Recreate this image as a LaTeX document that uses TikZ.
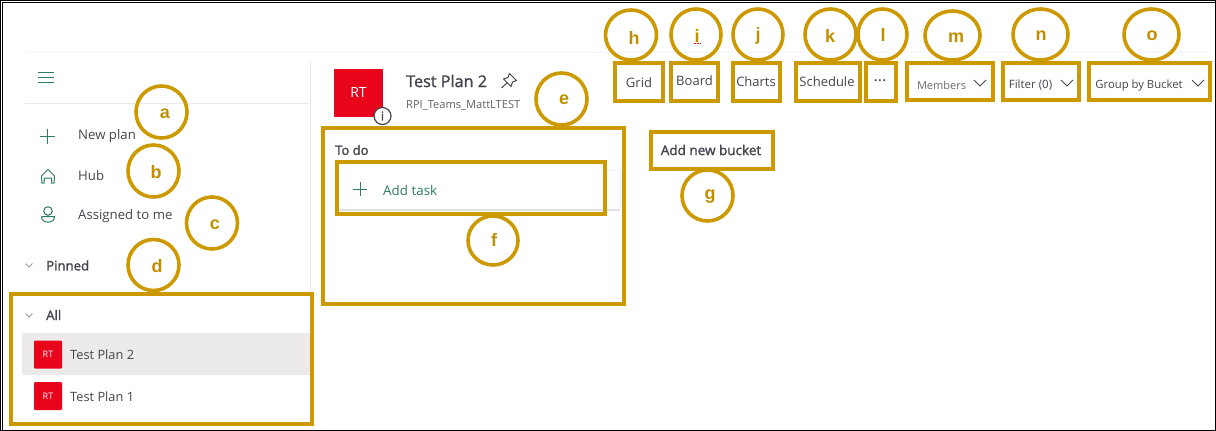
\documentclass[tikz,border=0pt]{standalone}
\usepackage{fontspec}
\usetikzlibrary{shapes.geometric}
\setmainfont{Open Sans}
\newfontfamily\semifont[FakeBold=1.6]{Open Sans}
\newfontfamily\letterfont{Liberation Sans}
\definecolor{hl}{HTML}{CC9900}
\definecolor{hltext}{HTML}{BF8F00}
\definecolor{ink}{HTML}{44464F}
\definecolor{plangreen}{HTML}{2F7D5F}
\definecolor{planred}{HTML}{E8051C}
\definecolor{rowgrey}{HTML}{EDEBE9}
\definecolor{rule}{HTML}{EDEBE9}
\tikzset{
  x=1pt,y=-1pt,
  hlbox/.style={draw=hl,line width=4pt,rectangle,inner sep=0pt,minimum width=#1},
  callout/.style={draw=hl,line width=3.6pt,ellipse,inner sep=0pt},
  letter/.style={font=\letterfont\bfseries\fontsize{18}{18}\selectfont,text=hltext,inner sep=0pt},
  uitext/.style={font=\fontsize{13.2}{15}\selectfont,text=ink,inner sep=0pt,anchor=west},
  uimid/.style={font=\fontsize{13}{15}\selectfont,text=ink,inner sep=0pt},
  semi/.style={font=\semifont\fontsize{13.2}{15}\selectfont,text=ink,inner sep=0pt,anchor=west},
  icon/.style={draw=plangreen,line width=1pt},
  chev/.style={draw=ink,line width=.8pt},
  smallchev/.style={draw=gray!80,line width=.9pt},
  badge/.style={fill=planred,inner sep=0pt,minimum width=28pt,minimum height=28pt,rounded corners=1pt,text=white,font=\fontsize{9}{10}\selectfont},
}
\begin{document}
\begin{tikzpicture}
\useasboundingbox (0,0) rectangle (1216,431);
\fill[white] (0,0) rectangle (1216,431);
% faint panel rules
\draw[draw=blue!4,line width=1pt] (25,52) -- (1210,52);
\draw[draw=rule,line width=1pt] (25,103) -- (310,103);
\draw[draw=rule,line width=1pt] (310.5,60) -- (310.5,292);
% selected row
\fill[rowgrey] (22,333) rectangle (310,375);
% sidebar icons
\draw[icon] (38,72.5) -- (54,72.5) (38,77.5) -- (54,77.5) (38,82.5) -- (54,82.5);
\draw[icon] (40,136) -- (55,136) (47.5,128.5) -- (47.5,143.5);
\draw[icon,line join=round] (44,183) -- (42,183) -- (41.5,176) -- (48,169.5) -- (54.5,176) -- (54,183) -- (51.5,183) -- (51.5,178) -- (44.5,178) -- cycle;
\draw[icon] (48,211) circle[radius=4.3];
\draw[icon] (41.5,216.5) -- (54.5,216.5) .. controls (55,224) and (41,224) .. (41.5,216.5);
\draw[smallchev] (25.5,263.5) -- (29,267) -- (32.5,263.5);
\draw[smallchev] (25.5,313.5) -- (29,317) -- (32.5,313.5);
% sidebar text
\node[uitext] (newplan) at (78,136.5) {New plan};
\node[uitext] (hub) at (78,176) {Hub};
\node[uitext] (assigned) at (78,216) {Assigned to me};
\node[semi] (pinned) at (46,265.5) {Pinned};
\node[semi] (all) at (46,315) {All};
\node[badge] (rt2) at (48,354.5) {RT};
\node[badge] (rt1) at (48,396) {RT};
\node[uitext,font=\fontsize{12.8}{15}\selectfont] (plan2) at (70,355) {Test Plan 2};
\node[uitext,font=\fontsize{12.8}{15}\selectfont] (plan1) at (70,396.5) {Test Plan 1};
% plan header
\node[fill=planred,inner sep=0pt,minimum width=49pt,minimum height=48pt,text=white,font=\fontsize{14}{16}\selectfont] (bigrt) at (358.5,93) {RT};
\node[circle,draw=ink,fill=white,line width=1.2pt,minimum size=17pt,inner sep=0pt,font=\semifont\fontsize{12}{12}\selectfont,text=ink] (info) at (382.5,116) {i};
\node[font=\semifont\fontsize{16.2}{18}\selectfont,text=ink,inner sep=0pt,anchor=west] (title) at (406,81) {Test Plan 2};
\draw[draw=ink,line width=1pt,line join=round] (507,83) -- (501.5,88) (509.5,73.5) -- (516.5,80.5) -- (512.5,82) -- (511,86.5) -- (503.5,79) -- (508,77.5) -- cycle;
\node[font=\fontsize{11.1}{13}\selectfont,text=ink!85,inner sep=0pt,anchor=west] (group) at (406,105.5) {RPI\_Teams\_MattLTEST};
% board
\node[semi,font=\semifont\fontsize{13}{15}\selectfont] (todo) at (335,150) {To do};
\fill[black!12] (338,208.5) rectangle (620,210.5);
\draw[draw=black!6,line width=1pt,rounded corners=2pt] (607,170) -- (620,170) -- (620,208);
\draw[icon] (352.5,189) -- (367,189) (360,181.5) -- (360,196);
\node[uitext,text=plangreen,font=\fontsize{13.4}{15}\selectfont] (addtask) at (383,190) {Add task};
\node[semi,anchor=center,font=\semifont\fontsize{13.5}{15}\selectfont] (addbucket) at (711,150) {Add new bucket};
% toolbar text
\node[uimid] (grid) at (639,82.5) {Grid};
\node[uimid] (board) at (694.5,81) {Board};
\node[uimid] (charts) at (756,82) {Charts};
\node[uimid] (schedule) at (827,82) {Schedule};
\node[uimid,font=\fontsize{16}{16}\selectfont] (more) at (880,80.5) {...};
\node[uimid,text=ink!80,font=\fontsize{11}{14}\selectfont] (members) at (941.5,85.5) {Members};
\node[uimid,font=\fontsize{11.5}{14}\selectfont] (filter) at (1030.5,85.5) {Filter (0)};
\node[uimid,font=\fontsize{11.3}{14}\selectfont] (groupby) at (1139,85.5) {Group by Bucket};
\draw[chev] (974,80) -- (980,86) -- (986,80);
\draw[chev] (1061,80) -- (1067,86) -- (1073,80);
\draw[chev] (1192,80) -- (1198,86) -- (1204,80);
% highlight boxes
\node[hlbox=301pt,minimum height=130pt] (boxall) at (161.5,359) {};
\node[hlbox=301pt,minimum height=176pt] (boxtodo) at (473.5,216) {};
\node[hlbox=268pt,minimum height=52pt] (boxadd) at (471,188) {};
\node[hlbox=122pt,minimum height=37pt] (boxbucket) at (712,150.5) {};
\node[hlbox=48pt,minimum height=38pt] (boxgrid) at (639,82) {};
\node[hlbox=47pt,minimum height=38pt] (boxboard) at (694.5,82) {};
\node[hlbox=47pt,minimum height=38pt] (boxcharts) at (756.5,82) {};
\node[hlbox=64pt,minimum height=38pt] (boxsched) at (828,82) {};
\node[hlbox=30pt,minimum height=38pt] (boxmore) at (881,82) {};
\node[hlbox=86pt,minimum height=37pt] (boxmem) at (950,81.5) {};
\node[hlbox=76pt,minimum height=37pt] (boxfil) at (1041,81.5) {};
\node[hlbox=121pt,minimum height=37pt] (boxgrp) at (1149.5,81.5) {};
% callouts
\foreach \nm/\cx/\cy/\w/\h/\lx/\ly/\tx in {
  a/161.5/112/51/52/165/114/a, b/153.5/171/51/52/156/172.5/b, c/212/223/51/52/215/225/c,
  d/153.5/265/51/51/157/266/d, e/561.5/99/51/52/564/100/e, f/493/240.5/50/49/494/240/f,
  g/707.5/195.5/51/51/710/197/g, h/631/35/51/50/634/38/h, i/696/34.5/50/51/697/36/i,
  j/758/34.5/50/51/758/36/j, k/830.5/34.5/51/51/830/36/k, l/882.5/34.5/49/51/883/35/l,
  m/952.5/35.5/55/49/956/38/m, n/1040.5/34.5/55/51/1041/36/n, o/1151.5/34.5/55/51/1152/36/o}{
  \node[callout,minimum width=\w pt,minimum height=\h pt] (c\nm) at (\cx,\cy) {};
  \node[letter] (l\nm) at (\lx,\ly) {\tx};
}
\draw[draw=red,line width=.5pt,densely dotted] (693.5,43.5) -- (700,43.5);
% frame
\draw[black,line width=1.4pt] (.5,.7) -- (1215.3,.7) -- (1215.3,430.3) -- (.5,430.3) -- cycle;
\draw[black,line width=1pt] (1215,2.5) -- (2.5,2.5) -- (2.5,430);
\end{tikzpicture}
\end{document}
